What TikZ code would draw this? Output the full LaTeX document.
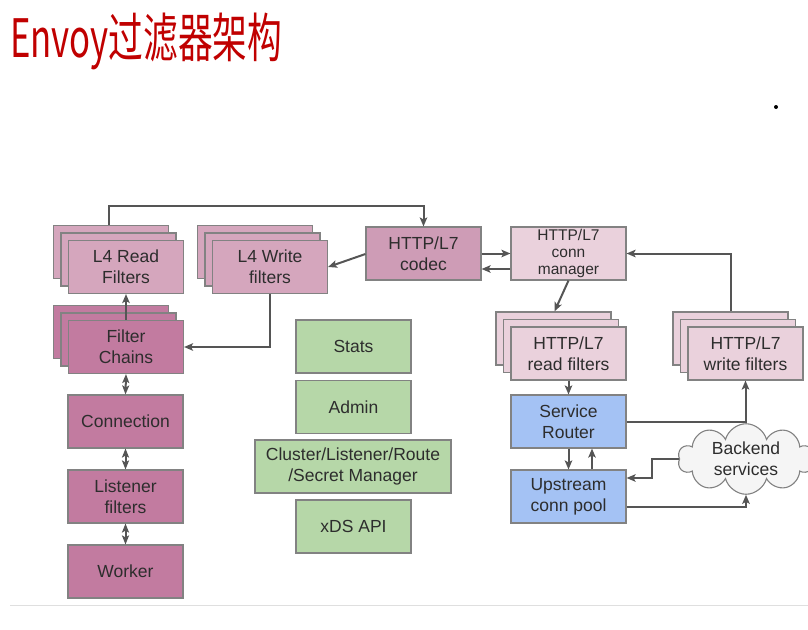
\documentclass[tikz,border=0pt]{standalone}
\usepackage{fontspec}
\setmainfont{Liberation Sans}
\newfontfamily\cjk{Noto Sans CJK SC}
\usetikzlibrary{shadows,shapes.symbols,arrows.meta,calc}
\definecolor{titlered}{RGB}{192,0,0}
\definecolor{pinkmid}{RGB}{213,166,189}
\definecolor{pinkcodec}{RGB}{206,156,182}
\definecolor{pinkdark}{RGB}{194,123,160}
\definecolor{pinklight}{RGB}{234,209,220}
\definecolor{bluebox}{RGB}{164,194,244}
\definecolor{greenbox}{RGB}{182,215,168}
\definecolor{edgecol}{RGB}{130,130,130}
\definecolor{linecol}{RGB}{85,85,85}
\definecolor{txtcol}{RGB}{45,45,45}
\tikzset{
  box/.style={rectangle, draw=edgecol, line width=1.1pt, minimum width=115pt, minimum height=53pt,
    align=center, inner sep=0pt, text=txtcol, font=\fontsize{17.5}{21}\selectfont},
  stack/.style={copy shadow={shadow xshift=-15pt, shadow yshift=15pt},
    copy shadow={shadow xshift=-7.5pt, shadow yshift=7.5pt}},
  arr/.style={draw=linecol, line width=2pt, -{Stealth[length=9pt,width=7.5pt,inset=2pt]}},
  dbl/.style={draw=linecol, line width=2pt, {Stealth[length=9pt,width=7pt,inset=2pt]}-{Stealth[length=9pt,width=7pt,inset=2pt]}},
}
\begin{document}
\begin{tikzpicture}[x=1pt,y=-1pt]
\useasboundingbox (0,0) rectangle (808,629);
% title
\node[anchor=base west, inner sep=0pt, text=titlered] (title) at (10,57)
  {\scalebox{0.655}[1]{\fontsize{53}{60}\selectfont\cjk Envoy过滤器架构}};
\node[circle, fill=black, inner sep=0pt, minimum size=4pt] (dot) at (776,107) {};
% bottom rule
\coordinate (rl) at (10,605);
\coordinate (rr) at (808,605);
\draw[gray!25, line width=1pt] (rl) -- (rr);

% left column
\node[box, stack, fill=pinkmid] (l4r) at (126,267) {L4 Read\\Filters};
\node[box, stack, fill=pinkmid] (l4w) at (270,267) {L4 Write\\filters};
\node[box, fill=pinkcodec] (codec) at (423.5,253.5) {HTTP/L7\\codec};
\node[box, stack, fill=pinkdark] (fc) at (126,347) {Filter\\Chains};
\node[box, fill=pinkdark] (conn) at (125.5,421.5) {Connection};
\node[box, fill=pinkdark] (lis) at (125.5,496.5) {Listener\\filters};
\node[box, fill=pinkdark] (wrk) at (125.5,571.5) {Worker};

% middle green
\node[box, fill=greenbox] (stats) at (353.5,346.5) {Stats};
\node[box, fill=greenbox] (admin) at (353.5,407) {Admin};
\node[box, fill=greenbox, minimum width=196pt] (clm) at (353,466.5) {Cluster/Listener/Route\\/Secret Manager};
\node[box, fill=greenbox] (xds) at (353.5,526.5) {xDS API};

% right
\node[box, fill=pinklight, font=\fontsize{15.5}{17}\selectfont] (cm) at (568.5,253.5) {HTTP/L7\\conn\\manager};
\node[box, stack, fill=pinklight] (rf) at (568.5,353.5) {HTTP/L7\\read filters};
\node[box, stack, fill=pinklight] (wf) at (745.5,353.5) {HTTP/L7\\write filters};
\node[box, fill=bluebox] (sr) at (568.5,421.5) {Service\\Router};
\node[box, fill=bluebox] (up) at (568.5,496.5) {Upstream\\conn pool};
\node[cloud, cloud puffs=10, aspect=2.2, draw=edgecol, line width=1.1pt, fill=gray!8,
  minimum width=136pt, minimum height=62pt, inner sep=0pt, align=center, text=txtcol,
  font=\fontsize{17.5}{21}\selectfont] (cloud) at (746,459) {Backend\\services};

% connectors
\draw[arr] ([shift={(41,-15)}]l4r.north west) -- ++(0,-19) -| (codec.north);
\draw[arr] ([yshift=-0.5pt]codec.west) -- (l4w.east);
\draw[arr] (l4w.south) |- (fc.east);
\draw[arr] (fc.north) -- (l4r.south);
\draw[dbl] (fc.south) -- (conn.north);
\draw[dbl] (conn.south) -- (lis.north);
\draw[dbl] (lis.south) -- (wrk.north);
\draw[arr] (codec.east) -- (cm.west);
\draw[arr] ([yshift=-15.5pt]cm.west) -- ([yshift=-15.5pt]codec.east);
\draw[arr] (cm.south) -- ([shift={(-14,-15)}]rf.north);
\draw[arr] ([shift={(-14.5,-15)}]wf.north) |- (cm.east);
\draw[arr] (rf.south) -- (sr.north);
\draw[arr] (sr.east) -| (wf.south);
\draw[arr] (sr.south) -- (up.north);
\draw[arr] ([xshift=23.5pt]up.north) -- ([xshift=23.5pt]sr.south);
\draw[arr] (cloud.west) -- ++(-27,0) |- ([yshift=18.5pt]up.east);
\draw[arr] ([yshift=-10.5pt]up.east) -| (cloud.south);
\end{tikzpicture}
\end{document}
